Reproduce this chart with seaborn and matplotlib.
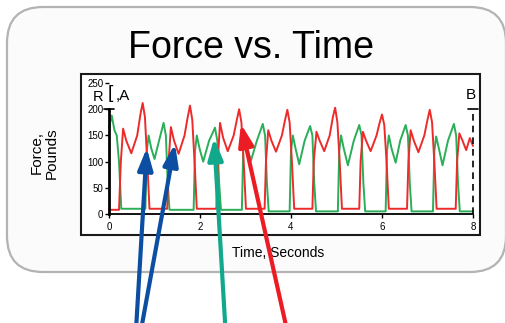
import matplotlib
matplotlib.use("Agg")
import matplotlib.pyplot as plt
import seaborn as sns
from matplotlib.patches import FancyBboxPatch, Rectangle

# ---------------- data ----------------
title = "Force vs. Time"
y_label = "Force,\nPounds"
x_label = "Time, Seconds"
x_ticks = [0, 2, 4, 6, 8]
y_ticks = [0, 50, 100, 150, 200, 250]

red_t = [0.00, 0.22, 0.26, 0.31, 0.38, 0.49, 0.62, 0.69, 0.74, 0.79, 0.84, 0.89,
         1.28, 1.31, 1.36, 1.43, 1.53, 1.66, 1.73, 1.78, 1.83, 1.88, 1.93,
         2.36, 2.39, 2.44, 2.51, 2.61, 2.74, 2.81, 2.86, 2.91, 2.96, 3.01,
         3.42, 3.45, 3.50, 3.57, 3.67, 3.80, 3.87, 3.92, 3.97, 4.02, 4.07,
         4.47, 4.50, 4.56, 4.63, 4.73, 4.85, 4.92, 4.97, 5.02, 5.07, 5.12,
         5.50, 5.53, 5.58, 5.65, 5.75, 5.88, 5.95, 6.00, 6.05, 6.10, 6.15,
         6.55, 6.58, 6.63, 6.70, 6.80, 6.93, 7.00, 7.05, 7.10, 7.15, 7.20,
         7.62, 7.65, 7.70, 7.77, 7.85, 7.93, 8.00]
red_v = [8, 8, 100, 163, 140, 116, 150, 190, 212, 185, 100, 10,
         10, 100, 166, 140, 115, 150, 185, 207, 180, 100, 10,
         10, 100, 174, 145, 120, 150, 180, 200, 175, 100, 10,
         10, 100, 160, 140, 119, 150, 180, 199, 175, 100, 10,
         10, 100, 157, 140, 120, 150, 185, 203, 175, 100, 10,
         10, 100, 157, 140, 120, 150, 175, 190, 170, 100, 10,
         10, 100, 160, 140, 118, 150, 180, 199, 175, 100, 10,
         10, 100, 154, 140, 122, 145, 130]

green_t = [0.00, 0.06, 0.12, 0.17, 0.22, 0.27,
           0.80, 0.83, 0.87, 0.93, 1.00, 1.10, 1.20, 1.25, 1.29, 1.33,
           1.86, 1.89, 1.93, 1.99, 2.07, 2.20, 2.33, 2.38, 2.42, 2.46,
           2.92, 2.95, 2.98, 3.04, 3.12, 3.25, 3.38, 3.43, 3.47, 3.51,
           3.97, 4.00, 4.04, 4.10, 4.18, 4.30, 4.42, 4.47, 4.51, 4.55,
           5.03, 5.06, 5.10, 5.16, 5.25, 5.38, 5.50, 5.55, 5.59, 5.63,
           6.08, 6.11, 6.15, 6.21, 6.30, 6.40, 6.52, 6.57, 6.61, 6.65,
           7.12, 7.15, 7.19, 7.25, 7.33, 7.45, 7.58, 7.63, 7.67, 7.71, 8.00]
green_v = [165, 188, 160, 150, 100, 10,
           10, 120, 150, 125, 105, 140, 174, 150, 60, 8,
           8, 120, 150, 125, 100, 140, 165, 140, 60, 8,
           8, 120, 150, 125, 102, 140, 172, 150, 60, 5,
           5, 120, 150, 125, 95, 140, 168, 150, 60, 5,
           5, 120, 150, 125, 93, 140, 170, 150, 60, 5,
           5, 120, 150, 125, 98, 140, 170, 150, 60, 5,
           5, 120, 148, 125, 93, 140, 172, 150, 60, 5, 5]

# arrows: tips in data units, tails in figure pixels (x, y from bottom)
arrow_tip_t = [0.83, 1.45, 2.31, 2.90]
arrow_tip_v = [126, 134, 145, 172]
arrow_tail_px = [(136, -7), (141, -7), (225.5, -7), (287, -7)]
arrow_colors = ["#0b4ea2", "#0b4ea2", "#12a88c", "#ec1c24"]

RED = "#ec2b2b"
GREEN = "#2aae58"

# ---------------- figure ----------------
sns.set_style("white")
plt.rcParams['font.family'] = ['Liberation Sans', 'DejaVu Sans']
plt.rcParams['text.color'] = 'black'

W, H = 505, 323
fig = plt.figure(figsize=(W / 100, H / 100), dpi=100)
fig.patch.set_facecolor("white")

bg = fig.add_axes([0, 0, 1, 1], zorder=0)
bg.set_xlim(0, W)
bg.set_ylim(H, 0)
bg.axis("off")
bg.add_patch(FancyBboxPatch((7, 7), 499, 265,
                            boxstyle="round,pad=0,rounding_size=36",
                            fc="#fbfbfb", ec="#b3b3b3", lw=1.6))
bg.add_patch(Rectangle((81, 74), 399, 161, fc="white", ec="#1a1a1a", lw=1.5))
bg.text(250.5, 58, title, ha="center", va="baseline", fontsize=27, color="black")
bg.text(44, 153, y_label, rotation=90, ha="center", va="center",
        fontsize=11, linespacing=1.1, color="black")
bg.text(278, 253, x_label, ha="center", va="center", fontsize=10, color="black")

# main axes: x 0..8 -> px 109..473, y 0..250 -> px 214..83
ax = fig.add_axes([109 / W, (H - 214) / H, 364 / W, 130.9 / H], zorder=1)
ax.patch.set_alpha(0)

sns.lineplot(x=green_t, y=green_v, ax=ax, color=GREEN, lw=1.4,
             estimator=None, sort=False)
sns.lineplot(x=red_t, y=red_v, ax=ax, color=RED, lw=1.4,
             estimator=None, sort=False)

ax.set_xlim(0, 8)
ax.set_ylim(0, 250)
for ln in ax.lines:
    ln.set_clip_on(False)
for s in ["top", "right"]:
    ax.spines[s].set_visible(False)
ax.spines["left"].set_linewidth(2)
ax.spines["left"].set_color("black")
ax.spines["left"].set_bounds(0, 200)
ax.spines["bottom"].set_linewidth(1.3)
ax.spines["bottom"].set_color("black")
ax.spines["bottom"].set_bounds(0, 8)
ax.set_xticks(x_ticks)
ax.set_yticks(y_ticks)
ax.set_xticklabels([str(v) for v in x_ticks])
ax.set_yticklabels([str(v) for v in y_ticks])
ax.tick_params(axis="both", direction="out", length=3, width=1,
               labelsize=7, bottom=True, left=True, colors="black")
ax.tick_params(axis="x", pad=3)
ax.tick_params(axis="y", pad=1)
ax.set_xlabel("")
ax.set_ylabel("")

# cursor markers
ax.plot([7.88, 8.12], [200, 200], color="black", lw=1.2, clip_on=False)
ax.plot([8.0, 8.0], [0, 200], color="black", lw=1.2, ls=(0, (4, 3)), clip_on=False)
ax.plot([-0.1, 0.1], [200, 200], color="black", lw=1.2, clip_on=False)
ax.text(7.96, 228, "B", ha="center", va="center", fontsize=11, clip_on=False)
ax.text(-0.25, 224, "R", ha="center", va="center", fontsize=10.5, clip_on=False)
ax.text(0.03, 230, "[", ha="center", va="center", fontsize=14, clip_on=False)
ax.text(0.14, 225, ",A", ha="left", va="center", fontsize=11, clip_on=False)

# arrows
for t, v, tail, c in zip(arrow_tip_t, arrow_tip_v, arrow_tail_px, arrow_colors):
    ax.annotate("", xy=(t, v), xycoords="data", xytext=tail,
                textcoords="figure pixels", annotation_clip=False, zorder=10,
                arrowprops=dict(arrowstyle="-|>,head_length=1.3,head_width=0.45",
                                color=c, lw=3, shrinkA=0, shrinkB=0,
                                mutation_scale=10))

fig.savefig("out.png", dpi=100)
